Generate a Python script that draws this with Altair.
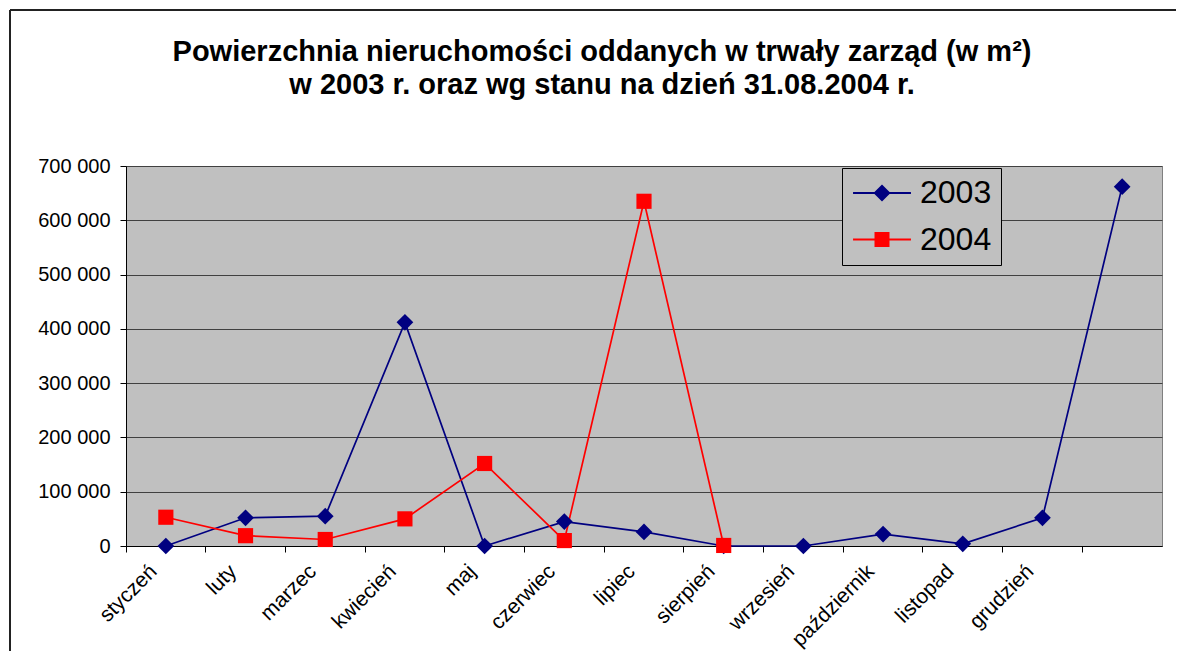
import altair as alt
import pandas as pd

# ---- data ----
months = ["styczeń", "luty", "marzec", "kwiecień", "maj", "czerwiec", "lipiec",
          "sierpień", "wrzesień", "październik", "listopad", "grudzień", ""]
values_2003 = [0, 52000, 55000, 412000, 0, 45000, 26000, 0, 0, 22000, 4000, 52000, 662000]
values_2004 = [53000, 19000, 12000, 50000, 152000, 10000, 635000, 1000]
years = ["2003", "2004"]
colors = ["#000080", "#FF0000"]
y_ticks = [0, 100000, 200000, 300000, 400000, 500000, 600000, 700000]
title_lines = ["Powierzchnia nieruchomości oddanych w trwały zarząd (w m²)",
               "w 2003 r. oraz wg stanu na dzień 31.08.2004 r."]

rows = [{"miesiac": m, "wartosc": v, "rok": "2003"} for m, v in zip(months, values_2003)]
rows += [{"miesiac": m, "wartosc": v, "rok": "2004"} for m, v in zip(months, values_2004)]
df = pd.DataFrame(rows)

FONT = "Liberation Sans"

x_enc = alt.X(
    "miesiac:N",
    sort=months,
    scale=alt.Scale(type="band", domain=months, paddingInner=0, paddingOuter=0),
    axis=alt.Axis(
        title=None, labelAngle=-45, labelAlign="right", labelBaseline="middle",
        bandPosition=0, labelOffset=-12, labelPadding=16, tickSize=6,
        tickColor="black", domainColor="black", domainWidth=1, grid=False,
        labelFontSize=21, labelFont=FONT, labelColor="black",
        labelOverlap=False, labelLimit=0,
    ),
)
y_enc = alt.Y(
    "wartosc:Q",
    scale=alt.Scale(domain=[0, 700000], nice=False),
    axis=alt.Axis(
        title=None, values=y_ticks,
        labelExpr="replace(format(datum.value, ','), ',', ' ')",
        grid=True, gridColor="#404040", gridWidth=1,
        domainColor="black", domainWidth=1, tickColor="black", tickSize=6,
        labelPadding=10, labelFontSize=20, labelFont=FONT, labelColor="black",
    ),
)
color_enc = alt.Color("rok:N", scale=alt.Scale(domain=years, range=colors), legend=None)

base = alt.Chart(df).encode(x=x_enc, y=y_enc)

lines = base.mark_line(strokeWidth=1.7).encode(color=color_enc, detail="rok:N")
pts_2003 = base.transform_filter(alt.datum.rok == "2003").mark_point(
    shape="diamond", filled=True, size=280, opacity=1).encode(color=color_enc)
pts_2004 = base.transform_filter(alt.datum.rok == "2004").mark_point(
    shape="square", filled=True, size=230, opacity=1).encode(color=color_enc)

# legend symbols: short line with the marker on it (shifted right inside the symbol cell)
path_2003 = "M-0.93,-0.067H2.93V0.067H-0.93Z M1,-0.57L1.57,0L1,0.57L0.43,0Z"
path_2004 = "M-0.93,-0.067H2.93V0.067H-0.93Z M0.5,-0.5H1.5V0.5H0.5Z"

legend_props = dict(
    orient="none", legendX=716, legendY=2, title=None,
    fillColor="#C0C0C0", strokeColor="black", padding=9, rowPadding=14.6,
    symbolSize=900, symbolStrokeWidth=0, symbolOpacity=1,
    labelFontSize=32, labelFont=FONT, labelColor="black", labelOffset=37, labelLimit=0,
)
legend_layer = base.mark_point(filled=True, opacity=0).encode(
    fill=alt.Fill("rok:N", scale=alt.Scale(domain=years, range=colors),
                  legend=alt.Legend(**legend_props)),
    shape=alt.Shape("rok:N", scale=alt.Scale(domain=years, range=[path_2003, path_2004]),
                    legend=alt.Legend(**legend_props)),
)

# outer chart frame (top and left edges visible in the reference)
frame_top = alt.Chart(alt.Data(values=[{"f": 1}])).mark_rule(
    stroke="#222222", strokeWidth=2).encode(
    x=alt.value(-116), x2=alt.value(1300), y=alt.value(-156), y2=alt.value(-156))
frame_left = alt.Chart(alt.Data(values=[{"g": 1}])).mark_rule(
    stroke="#222222", strokeWidth=2).encode(
    x=alt.value(-116), x2=alt.value(-116), y=alt.value(-156), y2=alt.value(700))

chart = alt.layer(frame_top, frame_left, lines, pts_2003, pts_2004, legend_layer).properties(
    width=1036, height=380,
    autosize=alt.AutoSizeParams(type="none"),
    padding={"left": 118, "top": 158, "right": 14, "bottom": 105},
    background="white",
    title=alt.TitleParams(
        text=title_lines, fontSize=29, font=FONT, fontWeight="bold", color="black",
        anchor="middle", dx=-42, offset=-114, baseline="alphabetic", lineHeight=33.5,
        frame="group",
    ),
).resolve_scale(
    shape="independent", fill="independent"
).configure_view(fill="#C0C0C0", stroke="#808080", strokeWidth=1)

chart.save("out.html", embed_options={"renderer": "svg", "actions": False})
